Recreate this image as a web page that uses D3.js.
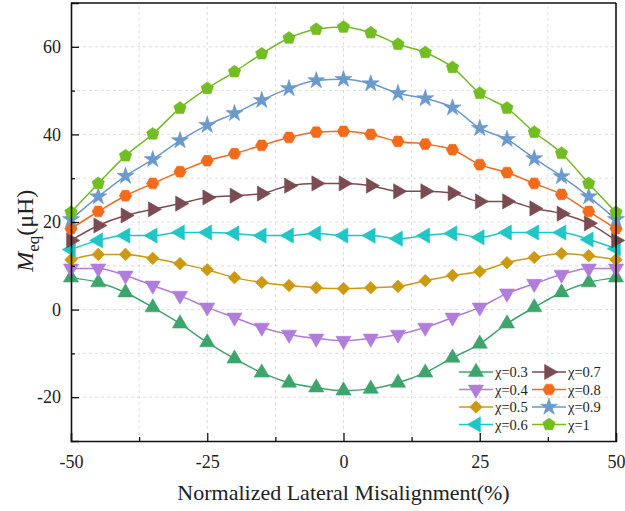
<!DOCTYPE html>
<html>
<head>
<meta charset="utf-8">
<script src="https://cdn.jsdelivr.net/npm/d3@7"></script>
<style>
  html, body { margin: 0; padding: 0; background: #fff; }
  svg { display: block; }
  text { font-family: "Liberation Serif", "Times New Roman", serif; fill: #222; }
</style>
</head>
<body>
<svg id="chart" width="625" height="511"></svg>
<script>
// Lateral misalignment (%) sampled every 5 %
const misalignment = [-50,-45,-40,-35,-30,-25,-20,-15,-10,-5,0,5,10,15,20,25,30,35,40,45,50];

// Equivalent mutual inductance M_eq (µH) for each coupling ratio χ
const chi03 = [7.3,6.2,3.9,0.5,-3.2,-7.5,-11.2,-14.4,-16.7,-17.8,-18.5,-18.1,-16.7,-14.4,-11.0,-7.8,-3.2,0.5,3.9,6.2,7.3];
const chi04 = [9.4,9.4,7.8,5.5,3.2,0.5,-1.8,-4.1,-5.7,-6.6,-7.1,-6.6,-5.7,-4.1,-1.8,0.5,3.7,5.9,8.0,9.4,9.4];
const chi05 = [11.4,12.6,12.6,11.7,10.5,9.1,7.3,6.2,5.5,5.0,4.8,5.0,5.3,6.6,7.8,8.7,10.7,11.9,12.8,12.3,11.4];
const chi06 = [13.7,15.8,16.9,16.9,17.6,17.6,17.4,16.9,16.9,17.4,16.9,16.9,16.2,16.9,17.4,16.5,17.6,17.6,17.6,16.0,13.9];
const chi07 = [15.8,19.2,21.5,22.9,24.2,25.6,26.0,26.5,28.3,28.8,28.8,28.3,27.0,27.0,26.6,24.7,24.7,23.1,21.9,19.7,15.8];
const chi08 = [18.5,22.4,26.0,28.8,31.5,34.0,35.6,37.5,39.3,40.5,40.7,40.0,38.4,37.8,36.5,33.1,31.3,28.8,26.3,22.4,18.5];
const chi09 = [20.6,25.8,30.5,34.3,38.6,42.1,44.8,47.8,50.5,52.3,52.6,51.6,49.4,48.2,46.1,41.4,38.9,34.5,30.4,25.8,20.6];
const chi10 = [22.2,28.8,35.1,40.1,46.0,50.5,54.3,58.4,62.0,64.0,64.5,63.2,60.6,58.7,55.3,49.4,46.0,40.5,35.7,28.8,22.2];

const seriesNames = ["χ=0.3","χ=0.4","χ=0.5","χ=0.6","χ=0.7","χ=0.8","χ=0.9","χ=1"];
const seriesValues = [chi03, chi04, chi05, chi06, chi07, chi08, chi09, chi10];
const seriesColors = ["#3da56c","#b17ddb","#cc9a12","#1ec6c8","#7b4b52","#f26b1d","#6a99cc","#72bd22"];
const seriesMarkers = ["triUp","triDown","diamond","triLeft","triRight","hexagon","star","pentagon"];

const xTicks = [-50,-25,0,25,50];
const yTicks = [-20,0,20,40,60];

const svg = d3.select("#chart");
const margin = {left: 71, right: 9, top: 3, bottom: 70};
const W = 625, H = 511;
const x = d3.scaleLinear().domain([-50, 50]).range([margin.left, W - margin.right]);
const y = d3.scaleLinear().domain([-30, 70]).range([H - margin.bottom, margin.top]);

// dashed grid at major and minor positions
const grid = svg.append("g");
grid.selectAll("line.gx").data(d3.range(-37.5, 50, 12.5)).enter().append("line")
  .attr("x1", d => x(d)).attr("x2", d => x(d))
  .attr("y1", y(-30)).attr("y2", y(70))
  .attr("stroke", "#d4d4d4").attr("stroke-width", 0.8).attr("stroke-dasharray", "3,3");
grid.selectAll("line.gy").data(d3.range(-20, 70, 10)).enter().append("line")
  .attr("y1", d => y(d)).attr("y2", d => y(d))
  .attr("x1", x(-50)).attr("x2", x(50))
  .attr("stroke", "#d4d4d4").attr("stroke-width", 0.8).attr("stroke-dasharray", "3,3");

// marker shapes
const sym = {
  triUp: d3.symbol().type(d3.symbolTriangle).size(100),
  triDown: d3.symbol().type(d3.symbolTriangle).size(100),
  triLeft: d3.symbol().type(d3.symbolTriangle).size(100),
  triRight: d3.symbol().type(d3.symbolTriangle).size(100),
  diamond: d3.symbol().type(d3.symbolSquare).size(80),
  star: d3.symbol().type(d3.symbolStar).size(90)
};
const rot = {triUp: 0, triDown: 180, triLeft: -90, triRight: 90, diamond: 45, star: 0, hexagon: 0, pentagon: 0};
function polygonPath(n, r, startAngle) {
  const pts = d3.range(n).map(i => {
    const a = startAngle + i * 2 * Math.PI / n;
    return [r * Math.cos(a), r * Math.sin(a)];
  });
  return "M" + pts.map(p => p.join(",")).join("L") + "Z";
}
function markerPath(kind) {
  if (kind === "hexagon") return polygonPath(6, 6.2, 0);
  if (kind === "pentagon") return polygonPath(5, 6.5, -Math.PI / 2);
  return sym[kind]();
}

const line = d3.line().x((d, i) => x(misalignment[i])).y(d => y(d)).curve(d3.curveMonotoneX);

const plot = svg.append("g");
seriesValues.forEach((vals, k) => {
  const g = plot.append("g");
  g.append("path").datum(vals).attr("d", line)
    .attr("fill", "none").attr("stroke", seriesColors[k]).attr("stroke-width", 1.5);
  g.selectAll("path.m").data(vals).enter().append("path")
    .attr("class", "m")
    .attr("d", markerPath(seriesMarkers[k]))
    .attr("transform", (d, i) => `translate(${x(misalignment[i])},${y(d)}) rotate(${rot[seriesMarkers[k]]})`)
    .attr("fill", seriesColors[k]).attr("stroke", seriesColors[k]).attr("stroke-width", 0.6);
});

// axes with inward ticks
const fmt = d => String(d);
const xAxis = svg.append("g").attr("transform", `translate(0,${y(-30)})`)
  .call(d3.axisBottom(x).tickValues(xTicks).tickSize(-8).tickPadding(14).tickFormat(fmt));
xAxis.selectAll(".tick").filter(d => d === -50 || d === 50).select("line").remove();
svg.append("g").attr("transform", `translate(0,${y(-30)})`)
  .call(d3.axisBottom(x).tickValues(d3.range(-37.5, 50, 25)).tickSize(-4).tickFormat(""))
  .select(".domain").remove();
const yAxis = svg.append("g").attr("transform", `translate(${x(-50)},0)`)
  .call(d3.axisLeft(y).tickValues(yTicks).tickSize(-8).tickPadding(10).tickFormat(fmt));
svg.append("g").attr("transform", `translate(${x(-50)},0)`)
  .call(d3.axisLeft(y).tickValues(d3.range(-10, 70, 20)).tickSize(-4).tickFormat(""))
  .select(".domain").remove();
svg.selectAll(".domain").attr("stroke", "#111").attr("stroke-width", 1.6);
svg.selectAll(".tick line").attr("stroke", "#111").attr("stroke-width", 1.3);
svg.selectAll(".tick text").style("font-family", "'Liberation Serif', serif").style("font-size", "18px").attr("fill", "#222");

// top and right frame
svg.append("line").attr("x1", x(-50)).attr("x2", x(50)).attr("y1", y(70)).attr("y2", y(70))
  .attr("stroke", "#111").attr("stroke-width", 1.6);
svg.append("line").attr("x1", x(50)).attr("x2", x(50)).attr("y1", y(70)).attr("y2", y(-30))
  .attr("stroke", "#111").attr("stroke-width", 1.6);

// axis titles
svg.append("text").attr("x", (x(-50) + x(50)) / 2).attr("y", 500).attr("text-anchor", "middle")
  .style("font-size", "22px").text("Normalized Lateral Misalignment(%)");
const yt = svg.append("text").attr("transform", `translate(33,${y(18)}) rotate(-90)`)
  .attr("text-anchor", "middle").style("font-size", "24px");
yt.append("tspan").style("font-style", "italic").text("M");
yt.append("tspan").attr("dy", 6).style("font-size", "17px").text("eq");
yt.append("tspan").attr("dy", -6).text("(μH)");

// legend, two columns
const legend = svg.append("g");
seriesNames.forEach((name, k) => {
  const col = Math.floor(k / 4), row = k % 4;
  const lx = 459 + col * 73, ly = 372 + row * 17.5;
  const g = legend.append("g").attr("transform", `translate(${lx},${ly})`);
  g.append("line").attr("x1", 0).attr("x2", 34).attr("stroke", seriesColors[k]).attr("stroke-width", 1.5);
  g.append("path").attr("d", markerPath(seriesMarkers[k]))
    .attr("transform", `translate(17,0) rotate(${rot[seriesMarkers[k]]})`)
    .attr("fill", seriesColors[k]).attr("stroke", seriesColors[k]).attr("stroke-width", 0.6);
  g.append("text").attr("x", 36).attr("y", 5).style("font-size", "14.5px").text(name);
});
</script>
</body>
</html>
